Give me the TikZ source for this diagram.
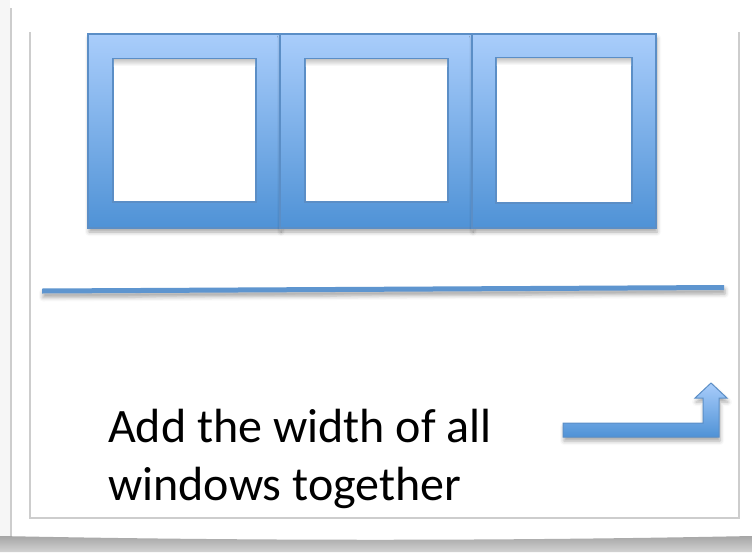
\documentclass[tikz,border=0pt]{standalone}
\usepackage{fontspec}
\setmainfont{Carlito}
\usetikzlibrary{shadows.blur}
\definecolor{frtop}{HTML}{A9CDFB}
\definecolor{frbot}{HTML}{4F92D6}
\definecolor{frline}{HTML}{5B8EC6}
\definecolor{barblue}{HTML}{5E95CF}
\definecolor{cardline}{HTML}{CDCDCD}
\tikzset{
  softshadow/.style={blur shadow={shadow xshift=1pt, shadow yshift=-4pt, shadow blur radius=4pt, shadow opacity=35}},
  framebox/.style={top color=frtop, bottom color=frbot, draw=frline, line width=1.2pt, softshadow, inner sep=0pt, outer sep=0pt},
  panebox/.style={fill=white, draw=frline, line width=1.5pt, inner sep=0pt, outer sep=0pt},
  cardedge/.style={draw=cardline, line width=1.5pt},
}
\begin{document}
\begin{tikzpicture}[x=1pt,y=-1pt]
\useasboundingbox (0,0) rectangle (752,552);
% card
\fill[gray!7] (0,0) rectangle (10,537);
\draw[cardedge] (11,8) -- (11,536);
\draw[cardedge] (30,32) -- (30,518) -- (739,518) -- (739,32);
\shade[top color=gray!70, bottom color=gray!35] (0,536) .. controls (250,541) and (500,541) .. (752,536) -- (752,552) -- (0,552) -- cycle;
% frames
\node[framebox, minimum width=192pt, minimum height=194pt] (f1) at (184,131) {};
\node[framebox, minimum width=192pt, minimum height=194pt] (f2) at (376,131) {};
\node[framebox, minimum width=184pt, minimum height=194pt] (f3) at (564,131) {};
\node[panebox, minimum width=143pt, minimum height=143pt] (p1) at (184.5,130.5) {};
\node[panebox, minimum width=143pt, minimum height=143pt] (p2) at (376.5,130.5) {};
\node[panebox, minimum width=136pt, minimum height=145pt] (p3) at (564,130.5) {};
\foreach \p in {p1,p2,p3}{
  \shade[top color=gray!40, bottom color=white] ([xshift=0.8pt,yshift=-0.8pt]\p.north west) rectangle ([xshift=-0.8pt,yshift=-7pt]\p.north east);
}
% divider line
\coordinate (la) at (42,291);
\coordinate (lb) at (724,287.5);
\fill[barblue, softshadow] ([yshift=2.5pt]la) -- ([yshift=2.5pt]lb) -- ([yshift=-2.5pt]lb) -- ([yshift=-2.5pt]la) -- cycle;
% bent-up arrow
\path[framebox, line width=1pt] (563,423) coordinate (a0) -- (703,423) -- (703,398) -- (695,398) -- (711,383) coordinate (tip) -- (727,398) -- (719,398) -- (719,437) -- (563,437) -- cycle;
% text
\node[anchor=base west, align=left, font=\fontsize{48}{58}\selectfont, inner sep=0pt] (txt) at (108,500) {Add the width of all\\windows together};
\end{tikzpicture}
\end{document}
